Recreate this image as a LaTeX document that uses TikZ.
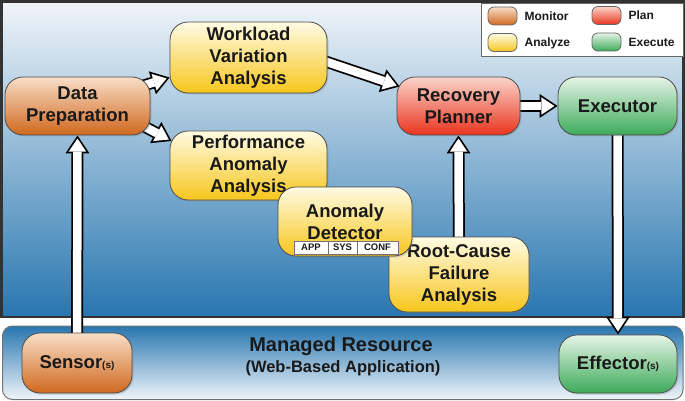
\documentclass[tikz,border=0pt]{standalone}
\usepackage{fontspec}
\setmainfont{Liberation Sans}
\usepackage{tikz}
\usetikzlibrary{arrows.meta,positioning,shadows}
\pgfdeclarelayer{back}
\pgfdeclarelayer{flows}
\pgfsetlayers{back,flows,main}

\definecolor{monlight}{RGB}{248,222,200}
\definecolor{mondark}{RGB}{208,104,30}
\definecolor{anlight}{RGB}{255,251,228}
\definecolor{andark}{RGB}{247,198,28}
\definecolor{planlight}{RGB}{251,212,202}
\definecolor{plandark}{RGB}{232,52,30}
\definecolor{exlight}{RGB}{230,244,230}
\definecolor{exdark}{RGB}{60,170,90}
\definecolor{skytop}{RGB}{240,245,249}
\definecolor{skymid}{RGB}{118,166,203}
\definecolor{skybot}{RGB}{40,118,176}

\tikzset{
  stage/.style={draw=black!70, line width=0.8pt, rounded corners=18pt, align=center,
    text=black!90, font=\bfseries\fontsize{18.5}{22}\selectfont, inner sep=0pt,
    drop shadow={shadow xshift=1.5pt,shadow yshift=-1.5pt,opacity=0.3}},
  monitor/.style={stage, top color=monlight, bottom color=mondark},
  analyze/.style={stage, top color=anlight, bottom color=andark},
  plan/.style={stage, top color=planlight, bottom color=plandark},
  execute/.style={stage, top color=exlight, bottom color=exdark},
  swatch/.style={draw=black!60, line width=0.8pt, rounded corners=6pt, minimum width=29pt, minimum height=18pt, inner sep=0pt},
  legtext/.style={font=\bfseries\fontsize{12}{14}\selectfont, text=black!90, inner sep=0pt, text height=8.6pt, text depth=0pt},
  cell/.style={draw=black!55, line width=0.6pt, fill=white, font=\bfseries\fontsize{9.5}{11}\selectfont, text=black!90,
    minimum height=13pt, inner sep=0pt, outer sep=0pt},
  flowout/.style={line width=12pt, draw=black, -{Triangle[length=18pt,width=24pt,line width=0pt]}},
  flowin/.style={line width=8.5pt, draw=white, shorten >=3.15pt, -{Triangle[length=13.1pt,width=17.5pt,line width=0pt]}},
}
\def\flow(#1)(#2){\draw[flowout] (#1) -- (#2); \draw[flowin] (#1) -- (#2);}

\begin{document}
\begin{tikzpicture}[x=1pt,y=-1pt]
		%%%%% START %%%%%
		\useasboundingbox (0,0) rectangle (685,401);
		
		\begin{pgfonlayer}{back}
		\shadedraw[top color=skytop, middle color=skymid, bottom color=skybot, draw=black!80, line width=2.5pt] (1.5,1.5) rectangle (683.5,317);
		\shadedraw[top color=skybot, middle color=skymid!70!skytop, bottom color=skytop, draw=black!55, line width=1pt, rounded corners=10pt] (2.5,326) rectangle (683,399.5);
		\end{pgfonlayer}
		
		% legend
		\draw[draw=black!60, line width=1pt, fill=white] (481,3.5) rectangle (683,57);
		\node[swatch, top color=monlight, bottom color=mondark] (legmon) at (502.5,16) {};
		\node[swatch, top color=anlight, bottom color=andark] (legana) at (502.5,42.5) {};
		\node[swatch, top color=planlight, bottom color=plandark] (legplan) at (606.5,15.5) {};
		\node[swatch, top color=exlight, bottom color=exdark] (legexe) at (606.5,42) {};
		\node[legtext, right=7pt of legmon] (labmon) {Monitor};
		\node[legtext, right=7pt of legana] (labana) {Analyze};
		\node[legtext, right=7pt of legplan] (labplan) {Plan};
		\node[legtext, right=7pt of legexe] (labexe) {Execute};
		
		% loop stages
		\node[monitor, minimum width=145pt, minimum height=58pt] (prep) at (77.5,106) {Data\\Preparation};
		\node[analyze, minimum width=157pt, minimum height=71pt] (workload) at (248.5,57.5) {Workload\\Variation\\Analysis};
		\node[analyze, minimum width=157pt, minimum height=69pt] (perf) at (248.5,165.5) {Performance\\Anomaly\\Analysis};
		\node[analyze, minimum width=140pt, minimum height=75pt] (rootcause) at (459,274.5) {Root-Cause\\Failure\\Analysis};
		\node[analyze, minimum width=134pt, minimum height=69pt] (detector) at (345,221.5) {Anomaly\\Detector};
		\node[cell, minimum width=34pt] (app) at (311,247.5) {APP};
		\node[cell, minimum width=29pt, right=0pt of app] (sys) {SYS};
		\node[cell, minimum width=41pt, right=0pt of sys] (conf) {CONF};
		\node[plan, minimum width=123pt, minimum height=58pt] (planner) at (458.5,106) {Recovery\\Planner};
		\node[execute, minimum width=119pt, minimum height=58pt] (executor) at (617.5,106) {Executor};
		
		% managed resource
		\node[monitor, minimum width=110pt, minimum height=60pt] (sensor) at (77,363) {Sensor{\fontsize{10}{12}\selectfont(s)}};
		\node[execute, minimum width=118pt, minimum height=58pt] (effector) at (618,364) {Effector{\fontsize{10}{12}\selectfont(s)}};
		\node[font=\bfseries\fontsize{20}{24}\selectfont, text=black!90, anchor=base] (resname) at (341,351) {Managed Resource};
		\node[font=\bfseries\fontsize{16.5}{20}\selectfont, text=black!90, anchor=base] (resapp) at (343,372) {(Web-Based Application)};
		
		\begin{pgfonlayer}{flows}
		\flow(sensor.center)(prep.south)
		\flow(prep.center)([yshift=-20pt]workload.west)
		\flow([xshift=-41pt,yshift=-2pt]prep.east)([xshift=2pt,yshift=24.5pt]perf.west)
		\flow([xshift=-27pt,yshift=4.5pt]workload.east)([xshift=3pt,yshift=19.5pt]planner.west)
		\flow(planner.center)(executor.west)
		\flow(rootcause.center)(planner.south)
		\flow(executor.center)(effector.north)
		\end{pgfonlayer}
		%%%%% END %%%%%
\end{tikzpicture}
\end{document}
